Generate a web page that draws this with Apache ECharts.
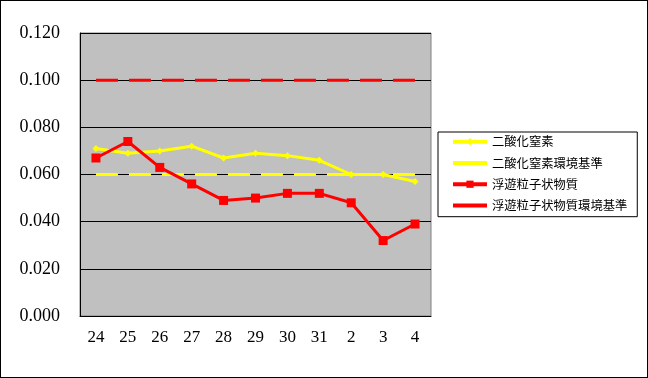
<!DOCTYPE html>
<html>
<head>
<meta charset="utf-8">
<script src="https://cdn.jsdelivr.net/npm/echarts@6/dist/echarts.min.js"></script>
<style>
  html, body { margin: 0; padding: 0; background: #fff; }
  #chart1 { width: 648px; height: 378px; box-sizing: border-box; border: 1px solid #000; }
</style>
</head>
<body>
<div id="chart1"></div>
<script>
  // 日付（カテゴリ）
  var days = ['24', '25', '26', '27', '28', '29', '30', '31', '2', '3', '4'];
  // 二酸化窒素
  var no2 = [0.071, 0.069, 0.070, 0.072, 0.067, 0.069, 0.068, 0.066, 0.060, 0.060, 0.057];
  var no2Std = [0.06, 0.06, 0.06, 0.06, 0.06, 0.06, 0.06, 0.06, 0.06, 0.06, 0.06];
  // 浮遊粒子状物質
  var spm = [0.067, 0.074, 0.063, 0.056, 0.049, 0.050, 0.052, 0.052, 0.048, 0.032, 0.039];
  var spmStd = [0.10, 0.10, 0.10, 0.10, 0.10, 0.10, 0.10, 0.10, 0.10, 0.10, 0.10];

  var myChart = echarts.init(document.getElementById('chart1'));
  var serif = 'Liberation Serif';
  var jp = 'Noto Sans CJK JP';

  myChart.setOption({
    animation: false,
    grid: {
      left: 79, right: 216, top: 32, bottom: 61,
      show: true, backgroundColor: '#c0c0c0', borderColor: '#808080', borderWidth: 1
    },
    legend: {
      orient: 'vertical',
      left: 437, top: 131,
      padding: [3.5, 10, 5, 13],
      itemWidth: 34, itemHeight: 9, itemGap: 9,
      borderColor: '#000', borderWidth: 1, backgroundColor: '#fff',
      textStyle: { fontFamily: jp, fontSize: 12.3, lineHeight: 9, color: '#000' },
      data: [
        { name: '二酸化窒素', lineStyle: { width: 4 } },
        { name: '二酸化窒素環境基準', lineStyle: { type: 'solid', width: 4 }, itemStyle: { opacity: 0 } },
        { name: '浮遊粒子状物質', lineStyle: { width: 4 } },
        { name: '浮遊粒子状物質環境基準', lineStyle: { type: 'solid', width: 4 }, itemStyle: { opacity: 0 } }
      ]
    },
    xAxis: {
      type: 'category',
      data: days,
      boundaryGap: true,
      axisLine: { lineStyle: { color: '#000', width: 1 } },
      axisTick: { inside: true, length: 5, lineStyle: { color: '#000' } },
      axisLabel: { fontFamily: serif, fontSize: 17, color: '#000', margin: 13 }
    },
    yAxis: {
      type: 'value',
      min: 0, max: 0.12, interval: 0.02,
      axisLine: { show: true, lineStyle: { color: '#000', width: 1 } },
      axisTick: { show: false },
      splitLine: { lineStyle: { color: '#000', width: 1 } },
      axisLabel: {
        fontFamily: serif, fontSize: 18, color: '#000', margin: 20,
        formatter: function (v) { return v.toFixed(3); }
      }
    },
    series: [
      {
        name: '二酸化窒素', type: 'line', data: no2,
        symbol: 'diamond', symbolSize: 7,
        lineStyle: { color: '#ffff00', width: 3 },
        itemStyle: { color: '#ffff00' }
      },
      {
        name: '二酸化窒素環境基準', type: 'line', data: no2Std,
        symbol: 'none',
        lineStyle: { color: '#ffff00', width: 3, type: [22, 11] },
        itemStyle: { color: '#ffff00' }
      },
      {
        name: '浮遊粒子状物質', type: 'line', data: spm,
        symbol: 'rect', symbolSize: 9,
        lineStyle: { color: '#ff0000', width: 3 },
        itemStyle: { color: '#ff0000' }
      },
      {
        name: '浮遊粒子状物質環境基準', type: 'line', data: spmStd,
        symbol: 'none',
        lineStyle: { color: '#ff0000', width: 3, type: [22, 11] },
        itemStyle: { color: '#ff0000' }
      }
    ]
  });
</script>
</body>
</html>
